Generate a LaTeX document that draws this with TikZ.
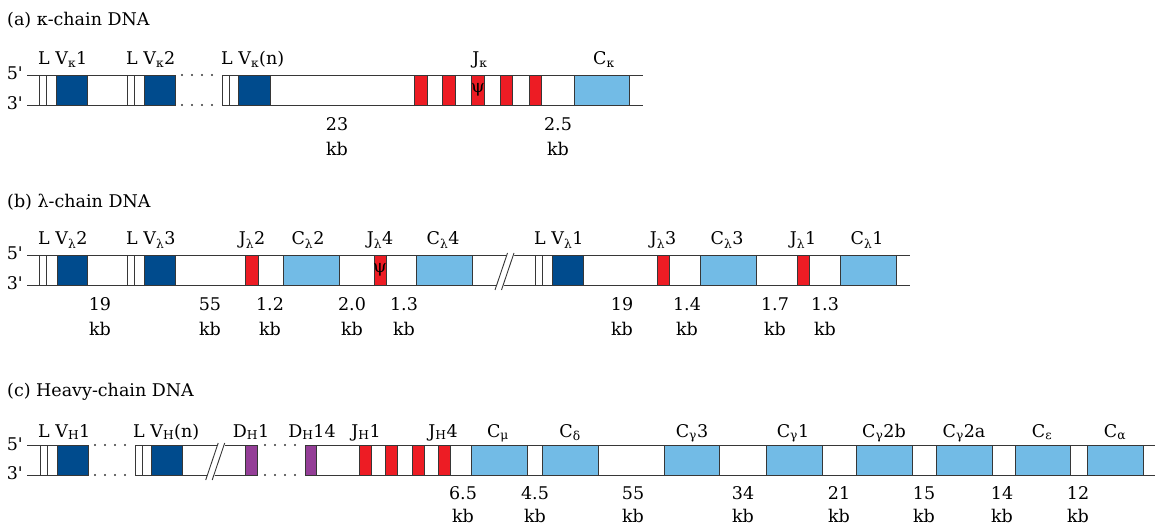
\documentclass[tikz,border=0pt]{standalone}
\usepackage{fontspec}
\setmainfont{DejaVu Serif}
\usetikzlibrary{positioning}

\definecolor{vblue}{RGB}{0,75,141}
\definecolor{cblue}{RGB}{114,187,230}
\definecolor{jred}{RGB}{237,28,36}
\definecolor{dpurple}{RGB}{148,62,151}
\definecolor{strandgray}{RGB}{55,55,55}

% pieces of a gene segment row (top strand at y=0, bottom strand at y=30)
\newcommand{\strands}[2]{\draw[dna] (#1,0) -- (#2,0) (#1,30) -- (#2,30);}
\newcommand{\exon}[3]{\filldraw[box,fill=#3] (#1,0) rectangle (#2,30);}
\newcommand{\leader}[1]{\filldraw[box,fill=white] (#1,0) rectangle ++(7,30);}
\newcommand{\gapdots}[1]{\foreach \d in {0,10,20,30} {\fill[strandgray] (#1+\d,0) circle (1.1); \fill[strandgray] (#1+\d,30) circle (1.1);}}
\newcommand{\cutmark}[1]{\fill[white] (#1,35) -- (#1+12.5,-2) -- (#1+20,-2) -- (#1+7.5,35) -- cycle;
  \draw[dna] (#1,35) -- (#1+12.5,-2) (#1+6.5,35) -- (#1+19,-2);}
\newcommand{\primes}{\node[lbl,anchor=base east] at (23,5) {5\textquotesingle}; \node[lbl,anchor=base east] at (23,34.5) {3\textquotesingle};}

\begin{document}
\begin{tikzpicture}[x=1pt,y=-1pt,
    every node/.style={font=\fontsize{17.5}{21}\selectfont,inner sep=0pt},
    lbl/.style={anchor=base},
    dna/.style={draw=strandgray,line width=0.9pt},
    box/.style={draw=strandgray,line width=0.9pt}]
\useasboundingbox (0,0) rectangle (1156,526);

% (a) kappa chain
\node[lbl,anchor=base west] (ta) at (7,26) {(a) κ-chain DNA};
\begin{scope}[shift={(0,75)}]
    \primes
    \strands{27}{175}
    \strands{222}{643}
    \gapdots{182}
    \foreach \x in {39.5,127.5,222} {\leader{\x}}
    \exon{56}{87}{vblue}
    \exon{144}{175}{vblue}
    \exon{238}{270}{vblue}
    \foreach \x in {414.5,442.5,471.5,500,529} {\exon{\x}{\x+12.5}{jred}}
    \node (psia) at (478,15) {ψ};
    \exon{574.5}{629.5}{cblue}
    % labels
    \node[lbl,anchor=base west] (va1) at (38,-10) {L V\textsubscript{κ}1};
    \node[lbl,anchor=base west] (va2) at (126,-10) {L V\textsubscript{κ}2};
    \node[lbl,anchor=base west] (van) at (221,-10) {L V\textsubscript{κ}(n)};
    \node[lbl] (ja) at (480,-10) {J\textsubscript{κ}};
    \node[lbl] (ca) at (604,-10) {C\textsubscript{κ}};
    \foreach \x/\n in {337/23,558/2.5}
    {
        \node[lbl] (na\x) at (\x,56) {\n};
        \node[lbl] (ka\x) at (\x,80.5) {kb};
    }
\end{scope}

% (b) lambda chain
\node[lbl,anchor=base west] (tb) at (7,208) {(b) λ-chain DNA};
\begin{scope}[shift={(0,255)}]
    \primes
    \strands{27}{910}
    \foreach \x in {39.5,127.7,535.7} {\leader{\x}}
    \exon{57.3}{87.3}{vblue}
    \exon{144.3}{175}{vblue}
    \exon{552.7}{583.3}{vblue}
    \foreach \x in {245.7,374,657.3,797.3} {\exon{\x}{\x+12.3}{jred}}
    \node (psib) at (380,15) {ψ};
    \foreach \x in {283.7,416.7,700.7,840.7} {\exon{\x}{\x+55.3}{cblue}}
    \cutmark{495}
    % labels
    \node[lbl,anchor=base west] (vb2) at (38,-10) {L V\textsubscript{λ}2};
    \node[lbl,anchor=base west] (vb3) at (126,-10) {L V\textsubscript{λ}3};
    \node[lbl,anchor=base west] (vb1) at (534,-10) {L V\textsubscript{λ}1};
    \node[lbl] (jb2) at (252,-10) {J\textsubscript{λ}2};
    \node[lbl] (cb2) at (308,-10) {C\textsubscript{λ}2};
    \node[lbl] (jb4) at (380,-10) {J\textsubscript{λ}4};
    \node[lbl] (cb4) at (443,-10) {C\textsubscript{λ}4};
    \node[lbl] (jb3) at (663,-10) {J\textsubscript{λ}3};
    \node[lbl] (cb3) at (727,-10) {C\textsubscript{λ}3};
    \node[lbl] (jb1) at (803,-10) {J\textsubscript{λ}1};
    \node[lbl] (cb1) at (867,-10) {C\textsubscript{λ}1};
    \foreach \x/\n in {100/19,210/55,270/1.2,352/2.0,404/1.3,622/19,687/1.4,775/1.7,825/1.3}
    {
        \node[lbl] (nb\x) at (\x,56) {\n};
        \node[lbl] (kb\x) at (\x,80.5) {kb};
    }
\end{scope}

% (c) heavy chain
\node[lbl,anchor=base west] (tc) at (7,396) {(c) Heavy-chain DNA};
\begin{scope}[shift={(0,445)}]
    \primes
    \strands{27}{88.3}
    \strands{135}{257.3}
    \strands{305}{1155}
    \gapdots{95}
    \gapdots{265}
    \foreach \x in {40,135} {\leader{\x}}
    \exon{57.3}{88.3}{vblue}
    \exon{151.7}{182.3}{vblue}
    \cutmark{205.7}
    \exon{245.7}{257.3}{dpurple}
    \exon{305}{316.7}{dpurple}
    \foreach \x in {359.3,385.7,412.3,438.3} {\exon{\x}{\x+12}{jred}}
    \foreach \x in {471.7,542.7,664,766.7,856.7,936.7,1015,1087.7} {\exon{\x}{\x+55.3}{cblue}}
    % labels
    \node[lbl,anchor=base west] (vh1) at (38,-8) {L V\textsubscript{H}1};
    \node[lbl,anchor=base west] (vhn) at (133,-8) {L V\textsubscript{H}(n)};
    \node[lbl] (dh1) at (251,-8) {D\textsubscript{H}1};
    \node[lbl] (dh14) at (312,-8) {D\textsubscript{H}14};
    \node[lbl] (jh1) at (366,-8) {J\textsubscript{H}1};
    \node[lbl] (jh4) at (443,-8) {J\textsubscript{H}4};
    \node[lbl] (cmu) at (498,-8) {C\textsubscript{μ}};
    \node[lbl] (cdelta) at (570,-8) {C\textsubscript{δ}};
    \node[lbl] (cg3) at (692,-8) {C\textsubscript{γ}3};
    \node[lbl] (cg1) at (793,-8) {C\textsubscript{γ}1};
    \node[lbl] (cg2b) at (884,-8) {C\textsubscript{γ}2b};
    \node[lbl] (cg2a) at (964,-8) {C\textsubscript{γ}2a};
    \node[lbl] (ceps) at (1042,-8) {C\textsubscript{ε}};
    \node[lbl] (calpha) at (1115,-8) {C\textsubscript{α}};
    \foreach \x/\n in {463/6.5,535/4.5,633/55,743/34,839/21,924/15,1002/14,1078/12}
    {
        \node[lbl] (nc\x) at (\x,54) {\n};
        \node[lbl] (kc\x) at (\x,77) {kb};
    }
\end{scope}

\end{tikzpicture}
\end{document}
